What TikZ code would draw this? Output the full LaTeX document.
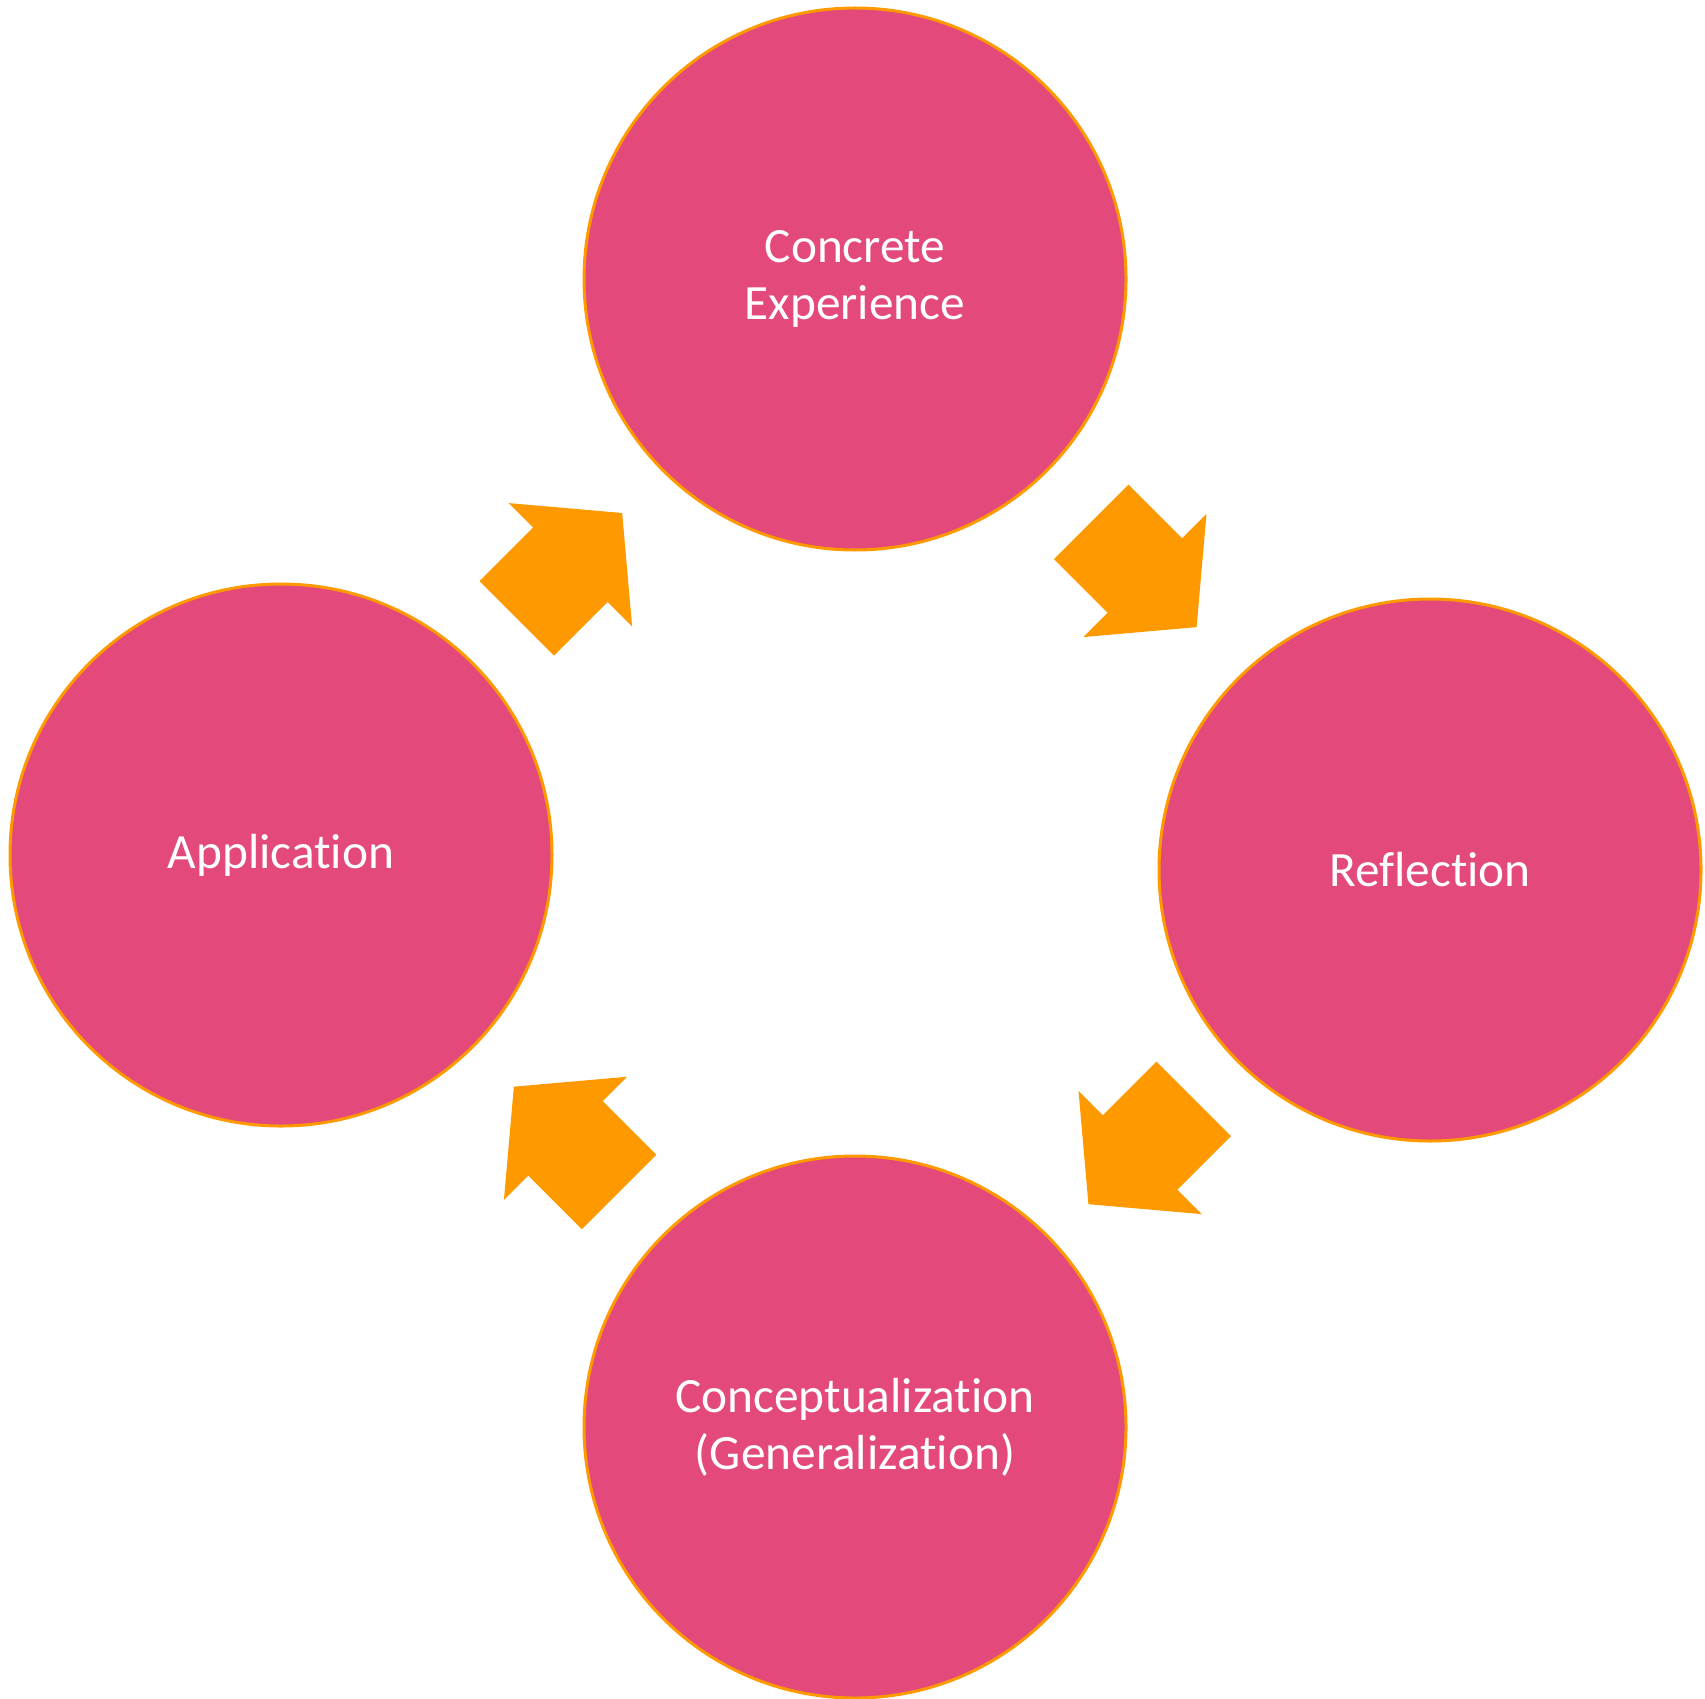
\documentclass[tikz,border=0pt]{standalone}
\usepackage{fontspec}
\setmainfont{Carlito}[Ligatures=NoCommon]
\usetikzlibrary{shapes.arrows,calc}
\definecolor{phasepink}{RGB}{227,73,122}
\definecolor{ringorange}{RGB}{255,153,0}
\tikzstyle{phase} = [draw=ringorange, line width=0.9pt, fill=phasepink, circle,
    minimum size=162.6pt, inner sep=0pt, text=white, align=center,
    font=\fontsize{14.8}{17.2}\selectfont]
\tikzstyle{turn} = [single arrow, fill=ringorange, draw=none, anchor=tail,
    inner xsep=0pt, inner ysep=15.6pt, single arrow head extend=10.35pt,
    single arrow tip angle=100, minimum height=44.7pt, minimum width=0pt]

\begin{document}
\begin{tikzpicture}[x=0.3pt, y=-0.3pt]
    \useasboundingbox (0,0) rectangle (1705,1698);

    % % % % % % % % % % % % % % % % % % % % % % %
    % The four stages
    % % % % % % % % % % % % % % % % % % % % % % %
    \node [phase] (exp) at (855,279) {Concrete\\Experience};
    \node [phase] (refl) at (1430,870) {Reflection};
    \node [phase] (concept) at (855,1427) {Conceptualization\\(Generalization)};
    \node [phase] (appl) at (281,855) {Application};

    % Arrows between the stages, tail a bit before half way
    \node [turn, rotate=-45] (exp2refl) at ($(exp)!0.41!(refl)$) {};
    \node [turn, rotate=-135] (refl2concept) at ($(refl)!0.41!(concept)$) {};
    \node [turn, rotate=135] (concept2appl) at ($(concept)!0.41!(appl)$) {};
    \node [turn, rotate=45] (appl2exp) at ($(appl)!0.41!(exp)$) {};

\end{tikzpicture}
\end{document}
